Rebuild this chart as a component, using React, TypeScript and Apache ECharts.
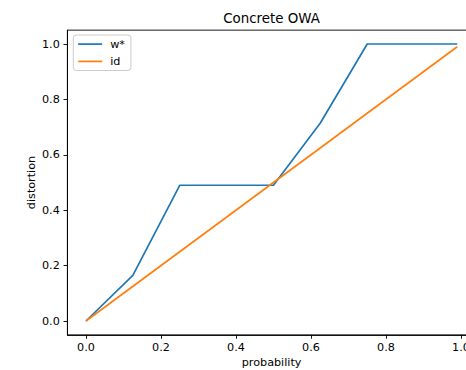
import React, { useEffect, useRef } from "react";
import * as echarts from "echarts";

const wStarX = [0, 0.125, 0.25, 0.5, 0.625, 0.75, 0.99];
const wStarY = [0, 0.165, 0.49, 0.49, 0.715, 1.0, 1.0];
const idX = [0, 0.99];
const idY = [0, 0.99];
const tickValues = [0, 0.2, 0.4, 0.6, 0.8, 1.0];

const FONT = "DejaVu Sans";

export default function App() {
  const ref = useRef<HTMLDivElement>(null);
  useEffect(() => {
    if (!ref.current) return;
    const chart = echarts.init(ref.current, undefined, { renderer: "svg" });
    const gl = 67.4, gt = 30.15, gw = 408.4, gh = 304.7;
    const axisCommon = {
      type: "value" as const,
      splitLine: { show: false },
      axisLine: { show: true, onZero: false, lineStyle: { color: "#000", width: 0.9 } },
      axisTick: { show: true, inside: false, length: 3.9, lineStyle: { color: "#000", width: 0.9 }, customValues: tickValues },
      axisLabel: {
        show: true,
        margin: 7.6,
        color: "#000",
        fontFamily: FONT,
        fontSize: 11.2,
        customValues: tickValues,
        formatter: (v: number) => v.toFixed(1),
      },
    };
    chart.setOption({
      animation: false,
      grid: {
        left: gl, top: gt, width: gw, height: gh,
        show: true, borderColor: "#000", borderWidth: 0.9,
        outerBoundsMode: "none",
      },
      xAxis: { ...axisCommon, min: -0.0495, max: 1.0395 },
      yAxis: { ...axisCommon, min: -0.05, max: 1.05 },
      legend: {
        orient: "vertical",
        left: 73.3,
        top: 35,
        padding: [3.3, 6, 3.3, 4],
        itemWidth: 24,
        itemHeight: 12,
        itemGap: 5.7,
        borderColor: "#cccccc",
        borderWidth: 1,
        borderRadius: 3,
        backgroundColor: "rgba(255,255,255,0.8)",
        itemStyle: { opacity: 0 },
        lineStyle: { width: 1.7 },
        textStyle: { fontFamily: FONT, fontSize: 11.2, color: "#000", padding: [0, 0, 0, 3] },
        data: ["w*", "id"],
      },
      series: [
        {
          name: "w*",
          type: "line",
          data: wStarX.map((x, i) => [x, wStarY[i]]),
          showSymbol: false,
          lineStyle: { color: "#1f77b4", width: 1.7 },
          itemStyle: { color: "#1f77b4" },
        },
        {
          name: "id",
          type: "line",
          data: idX.map((x, i) => [x, idY[i]]),
          showSymbol: false,
          lineStyle: { color: "#ff7f0e", width: 1.7 },
          itemStyle: { color: "#ff7f0e" },
        },
      ],
      graphic: [
        {
          type: "text",
          x: gl + gw / 2,
          y: 18.5,
          style: { text: "Concrete OWA", fontFamily: FONT, fontSize: 13.4, fill: "#000", align: "center", verticalAlign: "middle" },
        },
        {
          type: "text",
          x: gl + gw / 2,
          y: 362.5,
          style: { text: "probability", fontFamily: FONT, fontSize: 11.2, fill: "#000", align: "center", verticalAlign: "middle" },
        },
        {
          type: "text",
          x: 31,
          y: gt + gh / 2,
          rotation: Math.PI / 2,
          style: { text: "distortion", fontFamily: FONT, fontSize: 11.2, fill: "#000", align: "center", verticalAlign: "middle" },
        },
      ],
    });
    return () => chart.dispose();
  }, []);
  return <div ref={ref} style={{ position: "fixed", left: 0, top: 0, width: 466, height: 370, background: "#fff" }} />;
}
